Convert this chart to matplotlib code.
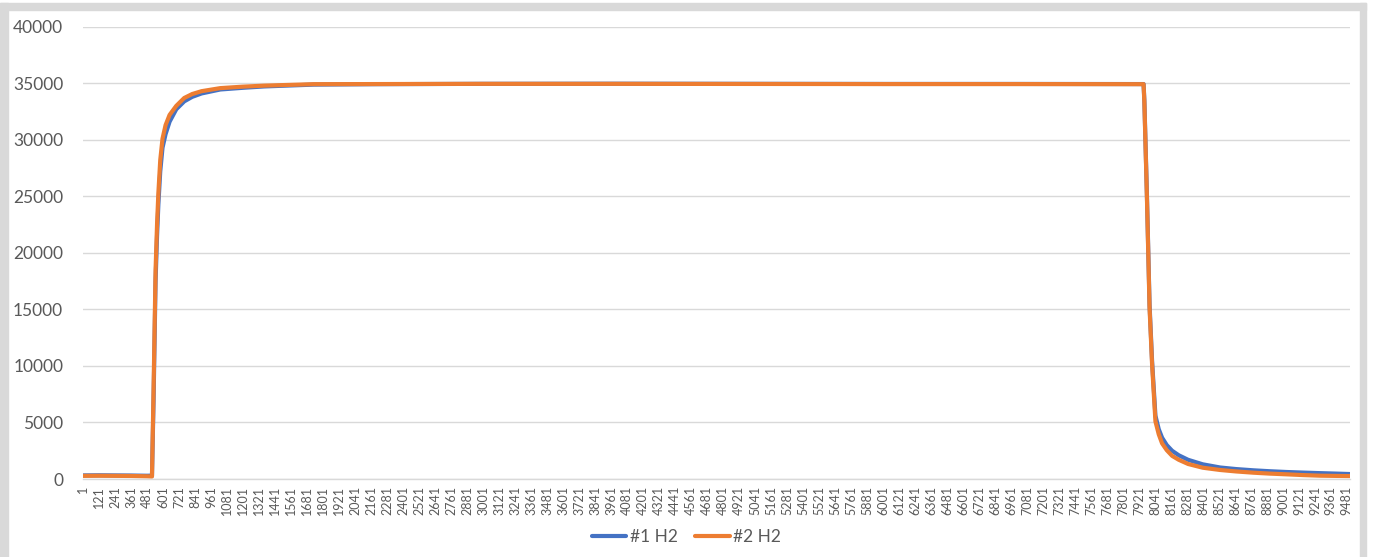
import matplotlib
matplotlib.use("Agg")
import matplotlib.pyplot as plt
from matplotlib.patches import Rectangle

plt.rcParams['font.family'] = ['Lato', 'DejaVu Sans']

# sample index -> value
h2_1_idx = [1, 120, 240, 360, 480, 518, 530, 545, 556, 566, 580, 597,
            620, 650, 700, 760, 820, 890, 1030, 1200, 1360, 1730, 2200,
            3000, 4000, 5000, 6000, 7000, 7956, 7962, 7981, 8001, 8020,
            8045, 8070, 8095, 8130, 8170, 8220, 8290, 8400, 8530, 8650,
            8780, 8900, 9030, 9150, 9280, 9400, 9505]
h2_1_val = [320, 330, 320, 310, 290, 300, 7000, 17500, 21500, 24300, 27200, 29300,
            30500, 31600, 32700, 33400, 33800, 34100, 34450, 34600, 34720, 34880, 34920,
            34950, 34960, 34950, 34940, 34940, 34930, 33500, 25200, 15400, 10400,
            5600, 4400, 3650, 3000, 2500, 2100, 1700, 1300, 1020, 880,
            770, 690, 620, 570, 520, 480, 440]

h2_2_idx = [1, 120, 240, 360, 480, 518, 530, 545, 556, 566, 580, 597,
            620, 650, 700, 760, 820, 890, 1030, 1200, 1360, 1730, 2200,
            3000, 4000, 5000, 6000, 7000, 7956, 7962, 7981, 8001, 8020,
            8045, 8070, 8095, 8130, 8170, 8220, 8290, 8400, 8530, 8650,
            8780, 8900, 9030, 9150, 9280, 9400, 9505]
h2_2_val = [280, 290, 280, 270, 240, 220, 8000, 18500, 22500, 25300, 28200, 30100,
            31300, 32200, 33000, 33700, 34050, 34300, 34570, 34700, 34790, 34920, 34930,
            34950, 34950, 34940, 34930, 34930, 34920, 33300, 25000, 15100, 10100,
            5100, 3950, 3150, 2550, 2050, 1700, 1330, 1000, 800, 670,
            560, 480, 415, 350, 295, 275, 260]

x_labels = list(range(1, 9482, 120))
y_ticks = [0, 5000, 10000, 15000, 20000, 25000, 30000, 35000, 40000]

blue = '#4472C4'
orange = '#ED7D31'
grey_text = '#595959'
grid_col = '#D9D9D9'

fig = plt.figure(figsize=(13.73, 5.57), dpi=100)
ax = fig.add_axes([0.0602, 0.140, 0.9231, 0.812])

ax.plot(h2_1_idx, h2_1_val, color=blue, lw=3.0, label='#1 H2', solid_capstyle='round')
ax.plot(h2_2_idx, h2_2_val, color=orange, lw=3.0, label='#2 H2', solid_capstyle='round')

ax.set_xlim(-2, 9505)
ax.set_ylim(0, 40000)
ax.set_yticks(y_ticks)
ax.set_yticklabels([str(v) for v in y_ticks], fontsize=12.5, color=grey_text)
ax.set_xticks(x_labels)
ax.set_xticklabels([str(v) for v in x_labels], rotation=90, fontsize=9, color=grey_text)
ax.tick_params(axis='y', length=0, pad=14)
ax.tick_params(axis='x', length=0, pad=5)

ax.grid(axis='y', color=grid_col, lw=1)
ax.set_axisbelow(True)
for s in ['top', 'right', 'left']:
    ax.spines[s].set_visible(False)
ax.spines['bottom'].set_color(grid_col)
ax.spines['bottom'].set_linewidth(1)

leg = fig.legend(loc='center', bbox_to_anchor=(0.5, 0.036), ncol=2, frameon=False,
                 fontsize=12.5, handlelength=2.0, handletextpad=0.2, columnspacing=1.0)
for t in leg.get_texts():
    t.set_color(grey_text)

# outer chart frame (light grey border like the Excel chart area)
W, H = 1373.0, 557.0
fig.patches.append(Rectangle((0, 0), 8 / W, 1 - 3 / H, transform=fig.transFigure,
                             color=grid_col, zorder=0))
fig.patches.append(Rectangle((0, 1 - 10 / H), 1366 / W, 7 / H, transform=fig.transFigure,
                             color=grid_col, zorder=0))
fig.patches.append(Rectangle((1360 / W, 0), 6 / W, 1 - 3 / H, transform=fig.transFigure,
                             color=grid_col, zorder=0))

fig.savefig('out.png', dpi=100)
